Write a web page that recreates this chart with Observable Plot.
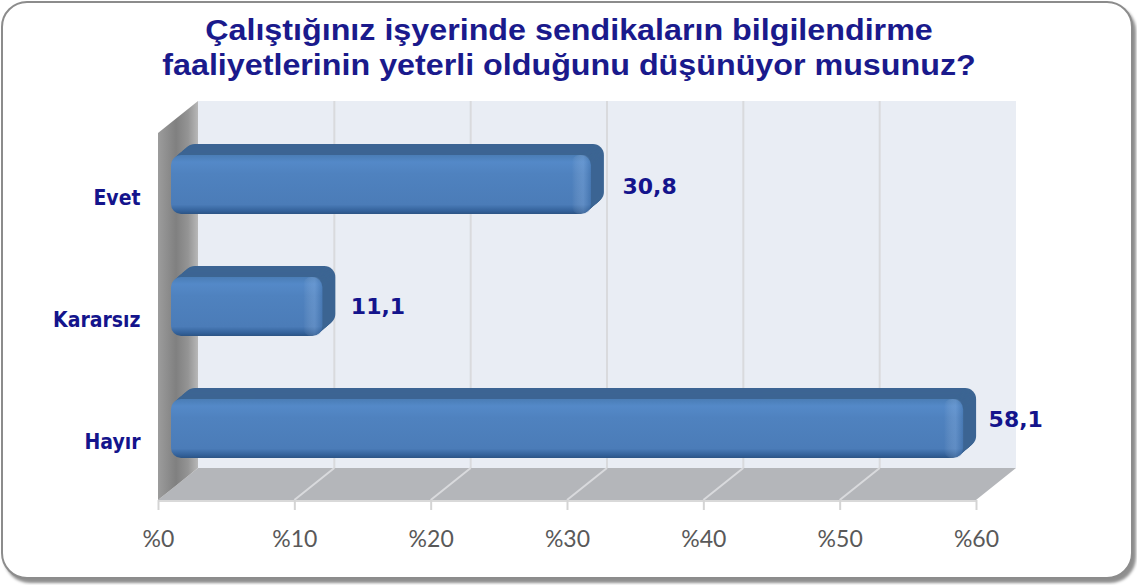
<!DOCTYPE html>
<html><head><meta charset="utf-8">
<script src="https://cdn.jsdelivr.net/npm/d3@7"></script>
<script src="https://cdn.jsdelivr.net/npm/@observablehq/plot@0.6"></script>
<style>
html,body{margin:0;padding:0;background:#fff;overflow:hidden}
#card{position:relative;width:1137px;height:585px;box-sizing:border-box}
#card:before{content:"";position:absolute;left:1px;top:1px;width:1128px;height:574px;border:2px solid #8c8c8c;border-radius:26px;box-shadow:3px 4px 3px #8f8f8f;background:#fff}
#title{position:absolute;left:0;top:13px;width:1138px;text-align:center;font:bold 29px/35px "Liberation Sans",Arial,sans-serif;color:#1a1a8c;transform:scaleX(1.112)}
#plot{position:absolute;left:0;top:100px}
</style></head><body>
<div id="card"><div id="title"><div>Çalıştığınız işyerinde sendikaların bilgilendirme</div><div>faaliyetlerinin yeterli olduğunu düşünüyor musunuz?</div></div><div id="plot"></div></div>
<script>
const categories = ["Evet", "Kararsız", "Hayır"];
const values = [30.8, 11.1, 58.1];
const valueLabels = ["30,8", "11,1", "58,1"];
const xTicks = [0, 10, 20, 30, 40, 50, 60];
const rows = categories.map((c, i) => ({category: c, value: values[i], label: valueLabels[i]}));

const depth = {dx: 40, dy: -32};
const bar = {dx: 13, dy: -10, ex: 13, ey: -11};

function defs() {
  const d = d3.create("svg:defs");
  const grad = (id, horiz, stops) => {
    const g = d.append("linearGradient").attr("id", id).attr("x1", 0).attr("y1", 0)
      .attr("x2", horiz ? 1 : 0).attr("y2", horiz ? 0 : 1);
    stops.forEach(([o, c, a]) => g.append("stop").attr("offset", o).attr("stop-color", c).attr("stop-opacity", a ?? 1));
  };
  grad("face", false, [[0, "#4a7db6"], [.12, "#5489c8"], [.32, "#4f82bf"], [.84, "#4b7cb8"], [.95, "#33619a"], [1, "#2c5484"]]);
  grad("sidewall", true, [[0, "#9c9c9c"], [.45, "#808080"], [.75, "#949494"], [1, "#b8b8b8"]]);
  grad("gloss", true, [[0, "#ffffff", 0], [.6, "#a8c8f0", .22], [1, "#2f5c92", .25]]);
  return d.node();
}

function room(index, {x}, values, dims) {
  const g = d3.create("svg:g");
  const x0 = x(0), x1 = x(60), top = dims.marginTop, bot = dims.height - dims.marginBottom;
  const poly = (pts, fill) => g.append("polygon").attr("points", pts.map(p => p.join(",")).join(" ")).attr("fill", fill);
  g.append("rect").attr("x", x0 + depth.dx).attr("y", top + depth.dy)
    .attr("width", x1 - x0).attr("height", bot - top).attr("fill", "#e9edf4");
  poly([[x0, bot], [x1, bot], [x1 + depth.dx, bot + depth.dy], [x0 + depth.dx, bot + depth.dy]], "#b4b6ba");
  poly([[x0, top], [x0 + depth.dx, top + depth.dy], [x0 + depth.dx, bot + depth.dy], [x0, bot]], "url(#sidewall)");
  xTicks.slice(1, -1).forEach(t => {
    const l = (a, b, c, e) => g.append("line").attr("x1", a).attr("y1", b).attr("x2", c).attr("y2", e)
      .attr("stroke", "#d9dadd").attr("stroke-width", 2);
    l(x(t) + depth.dx, top + depth.dy, x(t) + depth.dx, bot + depth.dy);
    l(x(t) + depth.dx, bot + depth.dy, x(t), bot);
  });
  g.append("line").attr("x1", x0).attr("y1", bot + 1).attr("x2", x1).attr("y2", bot + 1).attr("stroke", "#d9d9d9").attr("stroke-width", 2);
  return g.node();
}

const extrude = d3.range(bar.ex, 0, -1).map(i => Plot.barX(rows, {
  x: "value", y: "category", fill: "#3c6593", rx: 11,
  dx: bar.dx + i, dy: bar.dy + i * bar.ey / bar.ex
}));

const nudges = [[44, -8], [41, -10], [38, -19]];
const labelMarks = rows.map((r, i) => Plot.text([r], {
  x: "value", y: "category", text: "label", textAnchor: "start",
  dx: nudges[i][0], dy: nudges[i][1], fill: "#14148c", fontWeight: "bold", fontSize: 22,
  fontFamily: "'DejaVu Sans',sans-serif"
}));

const chart = Plot.plot({
  width: 1137, height: 485,
  marginLeft: 158, marginRight: 161, marginTop: 33, marginBottom: 85,
  style: {background: "transparent", overflow: "visible"},
  x: {domain: [0, 60], label: null},
  y: {domain: categories, paddingInner: 0.52, paddingOuter: 0.26, label: null},
  marks: [
    defs,
    room,
    ...extrude,
    Plot.barX(rows, {x: "value", y: "category", fill: "url(#face)", rx: 10, dx: bar.dx, dy: bar.dy}),
    Plot.barX(rows, {x1: d => d.value - 1.4, x2: "value", y: "category", fill: "url(#gloss)", rx: 8, dx: bar.dx, dy: bar.dy}),
    Plot.axisX({ticks: xTicks, tickFormat: d => "%" + d, tickSize: 10, tickPadding: 20, stroke: "#d4d4d4", strokeWidth: 2,
      fill: "#595959", fontSize: 23, fontFamily: "Lato,sans-serif", label: null, textStroke: "none"}),
    Plot.axisY({tickSize: 0, tickPadding: 18, dy: 3, fill: "#14148c", fontSize: 21, fontWeight: "bold",
      fontFamily: "'DejaVu Sans Condensed','Open Sans',sans-serif", label: null, textStroke: "none"}),
    ...labelMarks
  ]
});
document.getElementById("plot").append(chart);
</script>
</body></html>
